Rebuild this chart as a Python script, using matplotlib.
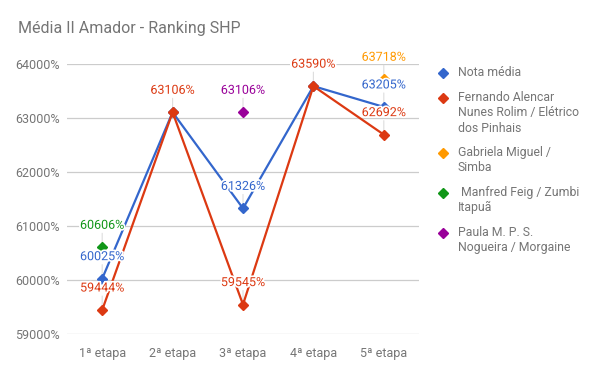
import matplotlib
matplotlib.use("Agg")
import matplotlib.pyplot as plt
import matplotlib.patheffects as pe
from matplotlib.lines import Line2D
import numpy as np

plt.rcParams['font.family'] = ['Roboto', 'DejaVu Sans']

title = "Média II Amador - Ranking SHP"
categories = ["1ª etapa", "2ª etapa", "3ª etapa", "4ª etapa", "5ª etapa"]
nota_media = [60025, 63106, 61326, 63590, 63205]
fernando = [59444, 63106, 59545, 63590, 62692]
gabriela = [None, None, None, None, 63718]
manfred = [60606, None, None, None, None]
paula = [None, None, 63106, None, None]
yticks = [59000, 60000, 61000, 62000, 63000, 64000]

series = [
    ("Nota média", nota_media, "#3366cc", True),
    ("Fernando Alencar\nNunes Rolim / Elétrico\ndos Pinhais", fernando, "#dc3912", True),
    ("Gabriela Miguel /\nSimba", gabriela, "#ff9900", False),
    (" Manfred Feig / Zumbi\nItapuã", manfred, "#109618", False),
    ("Paula M. P. S.\nNogueira / Morgaine", paula, "#990099", False),
]
# labels to hide because they overlap an identical one
hide = {("Nota média", 1), ("Nota média", 3)}

fig = plt.figure(figsize=(6.0, 3.71), dpi=100)
ax = fig.add_axes([67/600, 1-334/371, 352/600, 270/371])
x = np.arange(len(categories))
ax.set_xlim(-0.5, len(categories) - 0.5)
ax.set_ylim(59000, 64000)

for name, vals, col, line in series:
    xs = [i for i, v in enumerate(vals) if v is not None]
    ys = [v for v in vals if v is not None]
    ax.plot(xs, ys, color=col, lw=1.6 if line else 0, marker='D', ms=5.5,
            zorder=3)

for name, vals, col, line in series:
    for i, v in enumerate(vals):
        if v is None or (name, i) in hide:
            continue
        ax.annotate(f"{v}%", (i, v), xytext=(0, 22), textcoords='offset pixels',
                    ha='center', va='center', color=col, fontsize=9, zorder=4,
                    path_effects=[pe.withStroke(linewidth=2.5, foreground='white')])
        ax.annotate("", (i, v), xytext=(0, 14), textcoords='offset pixels',
                    arrowprops=dict(arrowstyle='-', color='#dddddd', lw=0.8,
                                    shrinkA=0, shrinkB=3), zorder=2)

ax.set_yticks(yticks)
ax.set_yticklabels([f"{t}%" for t in yticks])
ax.set_xticks(x)
ax.set_xticklabels(categories)
ax.grid(axis='y', color='#cccccc', lw=0.9)
ax.set_axisbelow(True)
for s in ax.spines.values():
    s.set_visible(False)
ax.tick_params(length=0, colors='#757575', labelsize=9)
ax.tick_params(axis='y', pad=5)
ax.tick_params(axis='x', pad=9)

fig.text(18/600, 1-28/371, title, fontsize=11.5, color='#757575', va='center', ha='left')

# legend
ypos = 72.7
for name, vals, col, line in series:
    nlines = name.count("\n") + 1
    fig.add_artist(Line2D([443/600], [1-ypos/371], marker='D', ms=5.5, color=col,
                          transform=fig.transFigure, lw=0))
    fig.text(458/600, 1-(ypos-7)/371, name, fontsize=8.8, color='#757575', va='top',
             ha='left', linespacing=1.25)
    ypos += 15*nlines + 10

fig.savefig("out.png", dpi=100)
